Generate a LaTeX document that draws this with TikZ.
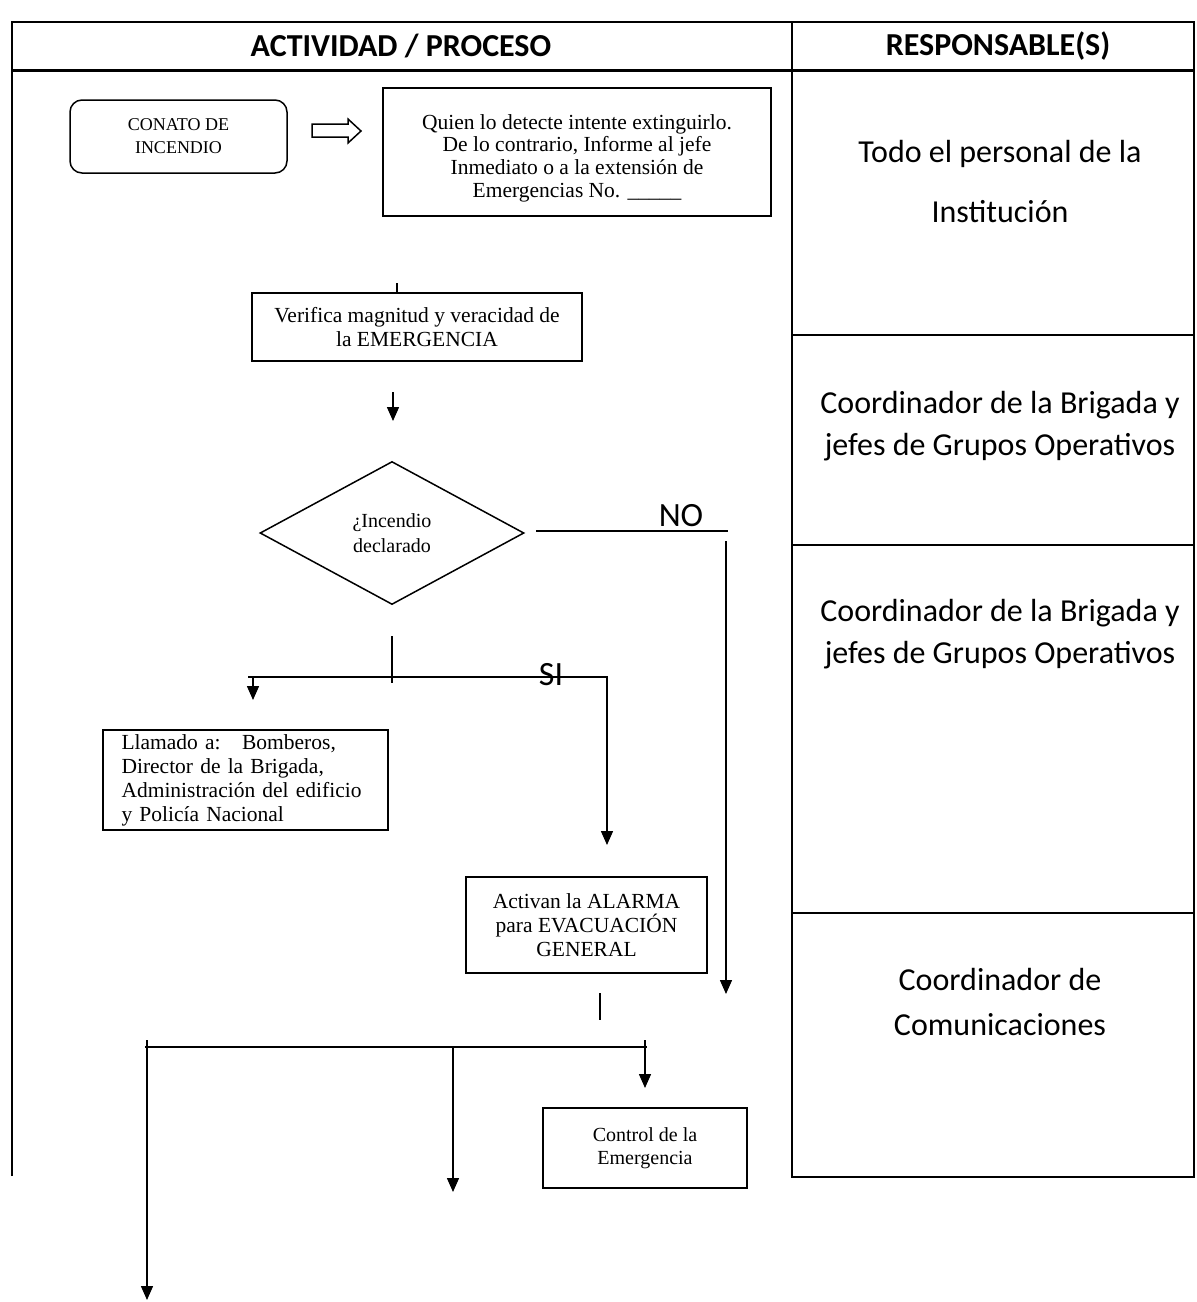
\documentclass[tikz,border=0pt]{standalone}
\usepackage{fontspec}
\setmainfont{Liberation Serif}
\newfontfamily\calib{Carlito}
\usetikzlibrary{arrows.meta,shapes.geometric}
\begin{document}
\begin{tikzpicture}[x=0.5pt,y=-0.5pt,
  tbl/.style={line width=1.2pt},
  flow/.style={line width=0.75pt},
  arr/.style={flow,-{Triangle[width=6pt,length=7pt]}},
  box/.style={draw,line width=0.75pt,inner sep=0pt,align=center,font=\fontsize{10.75}{12}\selectfont},
  resp/.style={align=center,inner sep=0pt},
  lbl/.style={font=\calib\fontsize{17}{20}\selectfont,inner sep=0pt}]
\useasboundingbox (0,0) rectangle (1196,1302);
% table
\draw[tbl] (12,1176) -- (12,22) -- (1194,22) -- (1194,1177) -- (792,1177) -- (792,22);
\draw[line width=1.5pt] (12,70) -- (1194,70);
\draw[tbl] (792,335) -- (1194,335);
\draw[tbl] (792,545) -- (1194,545);
\draw[tbl] (792,913) -- (1194,913);
\node[font=\calib\bfseries\fontsize{16}{19}\selectfont] (h1) at (401,46) {ACTIVIDAD / PROCESO};
\node[font=\calib\bfseries\fontsize{16}{19}\selectfont] (h2) at (998,46) {RESPONSABLE(S)};
\node[resp,font=\calib\fontsize{16}{30}\selectfont] (r1) at (1000,182) {Todo el personal de la\\Institución};
\node[resp,font=\calib\fontsize{16}{21}\selectfont] (r2) at (1000,426) {Coordinador de la Brigada y\\jefes de Grupos Operativos};
\node[resp,font=\calib\fontsize{16}{21}\selectfont] (r3) at (1000,634) {Coordinador de la Brigada y\\jefes de Grupos Operativos};
\node[resp,font=\calib\fontsize{16}{22.5}\selectfont] (r4) at (1000,1002) {Coordinador de\\Comunicaciones};
% flow nodes
\node[box,rounded corners=6pt,minimum width=108.5pt,minimum height=36.5pt,font=\fontsize{9}{11.5}\selectfont] (conato) at (178.5,136.5) {CONATO DE\\INCENDIO};
\draw[flow,line join=miter] (312,124) -- (348,124) -- (348,119) -- (361,131) -- (348,143) -- (348,137) -- (312,137) -- cycle;
\node[box,minimum width=194pt,minimum height=64pt] (quien) at (577,152) {};
\node[align=center,inner sep=0pt,font=\fontsize{10.75}{11.3}\selectfont] (quientxt) at ([yshift=-3pt]quien.center) {Quien lo detecte intente extinguirlo.\\De lo contrario, Informe al jefe\\Inmediato o a la extensión de\\Emergencias No. \_\_\_\_\_};
\node[box,minimum width=165pt,minimum height=34pt] (ver) at (417,327) {Verifica magnitud y veracidad de\\la EMERGENCIA};
\node[draw,diamond,flow,inner sep=0pt,minimum width=132pt,minimum height=71.5pt,align=center,font=\fontsize{10}{12.5}\selectfont] (dec) at (392,533) {¿Incendio\\declarado};
\node[box,align=left,text width=124pt,inner xsep=9.25pt,minimum height=50pt] (llam) at (245.5,780) {Llamado a:\ \ \ Bomberos,\\Director de la Brigada,\\Administración del edificio\\y Policía Nacional};
\node[box,minimum width=120.5pt,minimum height=48pt] (act) at (586.5,925) {Activan la ALARMA\\para EVACUACIÓN\\GENERAL};
\node[box,minimum width=102pt,minimum height=40pt,font=\fontsize{10}{11.5}\selectfont] (ctrl) at (645,1148) {Control de la\\Emergencia};
% connectors
\coordinate (t1) at (397,283);
\draw[flow] (t1) -- (t1 |- ver.north);
\coordinate (a1) at (393,392); \coordinate (a1e) at (393,421);
\draw[arr] (a1) -- (a1e);
\coordinate (no1) at (536,531); \coordinate (no2) at (728,531);
\draw[flow] (no1) -- (no2);
\coordinate (no3) at (726,541); \coordinate (no4) at (726,994);
\draw[arr] (no3) -- (no4);
\node[lbl] (nolbl) at (681,516) {NO};
\coordinate (s0) at (392,636); \coordinate (s1) at (392,683);
\draw[flow] (s0) -- (s1);
\coordinate (hl) at (248,677); \coordinate (hr) at (608,677);
\draw[flow] (hl) -- (hr);
\coordinate (l1) at (253,677); \coordinate (l1e) at (253,700);
\draw[arr] (l1) -- (l1e);
\coordinate (r1s) at (607,677); \coordinate (r1e) at (607,845);
\draw[arr] (r1s) -- (r1e);
\node[lbl] (silbl) at (551,675) {SI};
\coordinate (u0) at (600,993); \coordinate (u1) at (600,1020);
\draw[flow] (u0) -- (u1);
\coordinate (bl) at (145,1047); \coordinate (br) at (647,1047);
\draw[flow] (bl) -- (br);
\coordinate (b1) at (147,1040); \coordinate (b1e) at (147,1300);
\draw[arr] (b1) -- (b1e);
\coordinate (b2) at (453,1047); \coordinate (b2e) at (453,1192);
\draw[arr] (b2) -- (b2e);
\coordinate (b3) at (645,1040); \coordinate (b3e) at (645,1088);
\draw[arr] (b3) -- (b3e);
\end{tikzpicture}
\end{document}
